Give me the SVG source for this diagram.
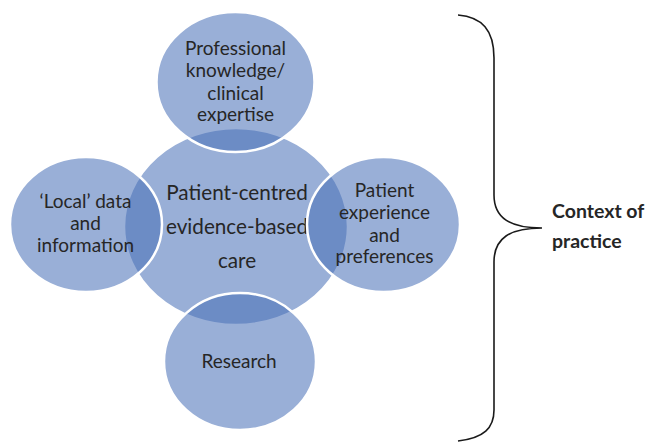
<svg xmlns="http://www.w3.org/2000/svg" width="652" height="442" viewBox="0 0 652 442">
  <style>
    .disc { fill: #4a70b8; fill-opacity: 0.56; stroke: #ffffff; stroke-width: 2.5; }
    .lbl { font-family: Lato, "Open Sans", "Liberation Sans", sans-serif; font-size: 19px; fill: #262626; text-anchor: middle; }
    .big { font-size: 20.7px; }
    .ctx { font-family: Lato, "Open Sans", "Liberation Sans", sans-serif; font-size: 19.5px; font-weight: bold; fill: #262626; }
    .brace { fill: none; stroke: #1a1a1a; stroke-width: 1.6; }
  </style>

  <!-- central hub -->
  <g id="hub">
    <ellipse class="disc" cx="236" cy="226.5" rx="112" ry="98.5"/>
    <text class="lbl big" x="237" y="200">Patient-centred</text>
    <text class="lbl big" x="237" y="234">evidence-based</text>
    <text class="lbl big" x="237" y="268">care</text>
  </g>

  <!-- surrounding discs -->
  <g id="expertise">
    <ellipse class="disc" cx="235.5" cy="82" rx="79" ry="70"/>
    <text class="lbl" x="235.5" y="55">Professional</text>
    <text class="lbl" x="235.5" y="77">knowledge/</text>
    <text class="lbl" x="235.5" y="99.5">clinical</text>
    <text class="lbl" x="235.5" y="121">expertise</text>
  </g>

  <g id="local-data">
    <ellipse class="disc" cx="86" cy="224.5" rx="76" ry="67.5"/>
    <text class="lbl" x="85.5" y="208">‘Local’ data</text>
    <text class="lbl" x="85.5" y="230">and</text>
    <text class="lbl" x="85.5" y="252">information</text>
  </g>

  <g id="patient-experience">
    <ellipse class="disc" cx="383.5" cy="224.5" rx="76.5" ry="67.5"/>
    <text class="lbl" x="384.5" y="197">Patient</text>
    <text class="lbl" x="384.5" y="219">experience</text>
    <text class="lbl" x="384.5" y="241.5">and</text>
    <text class="lbl" x="384.5" y="263">preferences</text>
  </g>

  <g id="research">
    <ellipse class="disc" cx="240" cy="361.5" rx="76" ry="68.5"/>
    <text class="lbl" x="239" y="368">Research</text>
  </g>

  <!-- context bracket -->
  <g id="connectors">
    <path class="brace" d="M 458 15 C 482 17 494 30 494 58 L 494 195 C 494 218 510 228 542 228 C 510 228 494 238 494 262 L 494 410 C 494 428 484 438 458 441"/>
  </g>

  <g id="context">
    <text class="ctx" x="552" y="218">Context of</text>
    <text class="ctx" x="552" y="248">practice</text>
  </g>
</svg>
